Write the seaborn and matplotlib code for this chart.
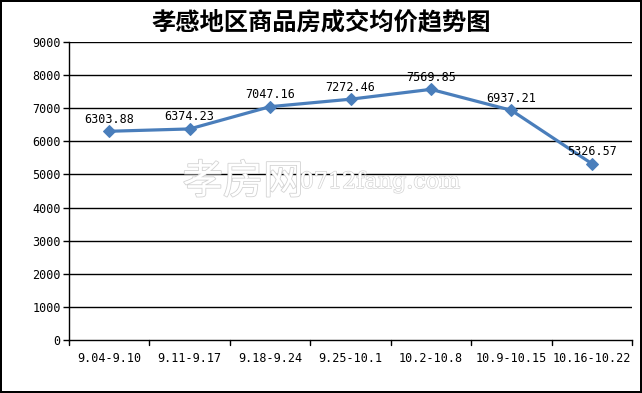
import matplotlib
matplotlib.use("Agg")
import matplotlib.pyplot as plt
import matplotlib.patheffects as pe
import seaborn as sns
import pandas as pd

categories = ["9.04-9.10", "9.11-9.17", "9.18-9.24", "9.25-10.1", "10.2-10.8", "10.9-10.15", "10.16-10.22"]
prices = [6303.88, 6374.23, 7047.16, 7272.46, 7569.85, 6937.21, 5326.57]
yticks = [0, 1000, 2000, 3000, 4000, 5000, 6000, 7000, 8000, 9000]
title = "孝感地区商品房成交均价趋势图"

sns.set_theme(style="white")
plt.rcParams['font.family'] = ['DejaVu Sans Mono', 'Noto Sans CJK SC']
plt.rcParams['text.color'] = 'black'
plt.rcParams['xtick.color'] = 'black'
plt.rcParams['ytick.color'] = 'black'

df = pd.DataFrame({"period": categories, "price": prices})
df["x"] = range(len(categories))

fig = plt.figure(figsize=(6.42, 3.93), dpi=100)
fig.patch.set_edgecolor("black")
fig.patch.set_linewidth(1.5)
ax = fig.add_axes([69/642, 1-340/393, (632-69)/642, (340-42)/393])

# watermark
wm = fig.text(243/642, 1-182/393, "孝房网", fontsize=29, family=['Noto Sans CJK SC'], color="white",
              ha="center", va="center", zorder=0)
wm.set_path_effects([pe.withStroke(linewidth=1.2, foreground="#d3d3d3")])
wm2 = fig.text(380/642, 1-182/393, "0712fang.com", fontsize=16, family=['DejaVu Serif'], color="white",
               ha="center", va="center", zorder=0)
wm2.set_path_effects([pe.withStroke(linewidth=1.0, foreground="#d3d3d3")])
ax.set_facecolor("none")

for y in yticks[1:]:
    ax.axhline(y, color="black", lw=1.0, zorder=1)

sns.lineplot(data=df, x="x", y="price", ax=ax, color="#4a7ebb", lw=2.3, marker="D",
             markersize=6, markeredgecolor="#4a7ebb", zorder=3)

for xi, v in zip(df["x"], prices):
    ax.annotate(f"{v:.2f}", (xi, v), xytext=(0, 4), textcoords="offset points",
                ha="center", va="bottom", fontsize=8.5, color="black")

ax.set_xlim(-0.5, len(categories) - 0.5)
ax.set_ylim(0, 9000)
ax.set_yticks(yticks)
ax.set_yticklabels([str(t) for t in yticks], fontsize=8.5)
ax.set_xticks(range(len(categories)))
ax.set_xticklabels(categories, fontsize=8.5)
ax.tick_params(axis="x", length=0, pad=9)
ax.tick_params(axis="y", length=4, width=1, direction="out", left=True, pad=2, color="black")
for b in [i - 0.5 for i in range(len(categories) + 1)]:
    ax.plot([b, b], [0, -0.016], transform=ax.get_xaxis_transform(), color="black", lw=1, clip_on=False)
ax.set_xlabel("")
ax.set_ylabel("")
for s in ["top", "right"]:
    ax.spines[s].set_visible(False)
for s in ["left", "bottom"]:
    ax.spines[s].set_color("black")
    ax.spines[s].set_linewidth(1)

fig.text(0.5, 0.942, title, ha="center", va="center", fontsize=17.5, fontweight="bold",
         family=['Noto Sans CJK SC'], color="black")

fig.savefig("out.png", dpi=100, edgecolor=fig.get_edgecolor())
